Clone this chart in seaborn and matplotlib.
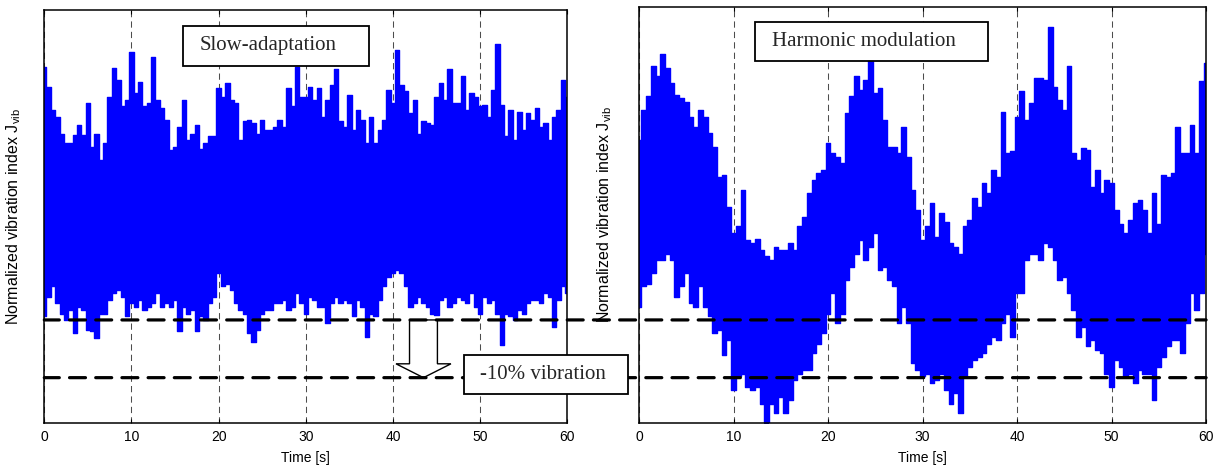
import numpy as np
import pandas as pd
import matplotlib
matplotlib.use("Agg")
import matplotlib.pyplot as plt
import seaborn as sns
from matplotlib.patches import ConnectionPatch, Rectangle

# ---------------------------------------------
# Data (envelope of the vibration index, every 0.5 s)
# ---------------------------------------------
time_s = np.arange(0, 60.5, 0.5)

slow_upper = [
    1.439, 1.404, 1.364, 1.352, 1.323, 1.306, 1.306, 1.321, 1.338, 1.321,
    1.375, 1.300, 1.323, 1.277, 1.306, 1.387, 1.436, 1.416, 1.370, 1.381,
    1.464, 1.393, 1.413, 1.370, 1.376, 1.456, 1.381, 1.367, 1.347, 1.295,
    1.300, 1.335, 1.381, 1.312, 1.323, 1.338, 1.297, 1.306, 1.318, 1.318,
    1.402, 1.387, 1.410, 1.381, 1.376, 1.312, 1.344, 1.347, 1.341, 1.323,
    1.347, 1.329, 1.329, 1.335, 1.347, 1.335, 1.402, 1.370, 1.439, 1.387,
    1.387, 1.404, 1.381, 1.402, 1.352, 1.381, 1.407, 1.434, 1.344, 1.335,
    1.390, 1.329, 1.364, 1.347, 1.306, 1.352, 1.306, 1.329, 1.347, 1.399,
    1.376, 1.468, 1.407, 1.396, 1.358, 1.381, 1.323, 1.344, 1.341, 1.338,
    1.387, 1.410, 1.381, 1.434, 1.376, 1.376, 1.422, 1.364, 1.393, 1.387,
    1.370, 1.373, 1.352, 1.399, 1.478, 1.373, 1.318, 1.364, 1.312, 1.361,
    1.329, 1.358, 1.347, 1.367, 1.335, 1.341, 1.312, 1.352, 1.364, 1.416,
    1.387,
]
slow_lower = [
    1.006, 1.040, 1.058, 1.029, 1.011, 1.000, 1.017, 0.977, 1.023, 1.017,
    0.982, 0.980, 0.968, 1.011, 1.011, 1.034, 1.046, 1.052, 1.040, 1.006,
    1.029, 1.023, 1.034, 1.017, 1.023, 1.029, 1.046, 1.023, 1.029, 1.023,
    1.034, 0.980, 1.023, 1.011, 1.017, 0.980, 1.006, 1.000, 1.029, 1.040,
    1.081, 1.058, 1.063, 1.052, 1.029, 1.017, 1.011, 0.977, 0.962, 0.982,
    1.011, 1.017, 1.017, 1.029, 1.029, 1.034, 1.017, 1.023, 1.046, 1.029,
    1.011, 1.040, 1.034, 1.023, 1.023, 0.994, 1.029, 1.040, 1.029, 1.034,
    1.029, 1.006, 1.034, 1.023, 0.971, 1.011, 1.006, 1.034, 1.058, 1.075,
    1.081, 1.087, 1.081, 1.058, 1.023, 1.029, 1.040, 1.029, 1.023, 1.011,
    1.008, 1.034, 1.040, 1.023, 1.029, 1.040, 1.034, 1.029, 1.046, 1.023,
    1.011, 1.040, 1.029, 1.034, 1.011, 0.956, 1.011, 1.006, 1.000, 1.017,
    1.011, 1.029, 1.034, 1.034, 1.029, 1.046, 1.040, 0.988, 1.034, 1.058,
    1.046,
]
harm_upper = [
    1.312, 1.364, 1.387, 1.439, 1.422, 1.460, 1.436, 1.410, 1.390, 1.384,
    1.378, 1.352, 1.335, 1.364, 1.352, 1.323, 1.300, 1.248, 1.251, 1.196,
    1.150, 1.162, 1.225, 1.139, 1.133, 1.140, 1.121, 1.110, 1.104, 1.127,
    1.121, 1.121, 1.133, 1.121, 1.162, 1.179, 1.219, 1.243, 1.254, 1.260,
    1.306, 1.289, 1.283, 1.271, 1.358, 1.387, 1.422, 1.399, 1.416, 1.451,
    1.393, 1.402, 1.347, 1.300, 1.300, 1.289, 1.335, 1.283, 1.225, 1.191,
    1.139, 1.162, 1.202, 1.144, 1.185, 1.170, 1.133, 1.127, 1.115, 1.162,
    1.173, 1.211, 1.196, 1.237, 1.219, 1.260, 1.248, 1.361, 1.289, 1.292,
    1.352, 1.396, 1.347, 1.376, 1.419, 1.419, 1.416, 1.508, 1.404, 1.381,
    1.364, 1.439, 1.289, 1.277, 1.297, 1.295, 1.231, 1.260, 1.219, 1.243,
    1.237, 1.191, 1.167, 1.150, 1.173, 1.202, 1.208, 1.191, 1.150, 1.219,
    1.167, 1.251, 1.248, 1.254, 1.335, 1.289, 1.289, 1.338, 1.289, 1.413,
    1.445,
]
harm_lower = [
    1.023, 1.058, 1.063, 1.081, 1.104, 1.104, 1.115, 1.104, 1.040, 1.058,
    1.081, 1.029, 1.023, 1.058, 1.023, 1.006, 0.977, 0.982, 0.939, 0.965,
    0.878, 0.902, 0.907, 0.884, 0.878, 0.884, 0.855, 0.818, 0.855, 0.838,
    0.867, 0.838, 0.861, 0.896, 0.907, 0.913, 0.913, 0.942, 0.959, 0.977,
    1.011, 1.046, 0.994, 1.011, 1.069, 1.092, 1.115, 1.139, 1.104, 1.127,
    1.150, 1.087, 1.092, 1.069, 1.058, 0.994, 1.023, 0.994, 0.925, 0.913,
    0.902, 0.907, 0.890, 0.896, 0.907, 0.878, 0.855, 0.873, 0.838, 0.902,
    0.919, 0.930, 0.936, 0.942, 0.959, 0.971, 0.965, 0.994, 1.011, 0.971,
    1.046, 1.046, 1.104, 1.115, 1.115, 1.104, 1.133, 1.127, 1.104, 1.069,
    1.075, 1.046, 1.017, 0.971, 0.988, 0.954, 0.965, 0.948, 0.942, 0.907,
    0.884, 0.930, 0.919, 0.902, 0.907, 0.890, 0.913, 0.907, 0.907, 0.861,
    0.919, 0.936, 0.954, 0.965, 0.965, 0.942, 0.994, 1.046, 1.017, 1.046,
    1.115,
]

xticks = [0, 10, 20, 30, 40, 50, 60]
limit_level = 1.0      # upper thick dashed line
target_level = 0.9     # -10 % line
arrow_time = 43.5

panel_titles = ["Slow-adaptation", "Harmonic modulation"]
xlabel = "Time [s]"
ylabel = "Normalized vibration index J$_{vib}$"
reduction_label = "-10% vibration"

# ---------------------------------------------
# Style
# ---------------------------------------------
sns.set_theme(style="ticks")
plt.rcParams["font.family"] = ["Liberation Sans", "DejaVu Sans"]
plt.rcParams["mathtext.default"] = "regular"

fig = plt.figure(figsize=(12.2, 4.67), dpi=100)
ax1 = fig.add_axes([0.0363, 0.0949, 0.4287, 0.8837])
ax2 = fig.add_axes([0.5238, 0.0949, 0.4648, 0.8901])


def draw_band(ax, upper, lower):
    df = pd.DataFrame({"t": time_s, "upper": upper, "lower": lower})
    ax.fill_between(df["t"], df["lower"], df["upper"], step="mid",
                    color="blue", lw=0, zorder=2)
    sns.lineplot(data=df, x="t", y="upper", ax=ax, color="blue", lw=1,
                 drawstyle="steps-mid", zorder=2)
    sns.lineplot(data=df, x="t", y="lower", ax=ax, color="blue", lw=1,
                 drawstyle="steps-mid", zorder=2)


def style_axes(ax, ytop, label_x):
    ax.set_xlim(0, 60)
    ax.set_ylim(0.822, ytop)
    ax.set_xticks(xticks)
    ax.set_yticks([])
    ax.grid(axis="x", color="0.3", lw=0.75, ls=(0, (6, 4)))
    ax.tick_params(axis="x", direction="in", top=True, length=3, width=0.8,
                   labelsize=10, pad=5, colors="black")
    for sp in ax.spines.values():
        sp.set_color("black")
        sp.set_linewidth(1.1)
    ax.set_xlabel(xlabel, fontsize=10, labelpad=5, color="black")
    ax.set_ylabel(ylabel, fontsize=11.5, color="black")
    ax.yaxis.set_label_coords(label_x, 0.5)


draw_band(ax1, slow_upper, slow_lower)
draw_band(ax2, harm_upper, harm_lower)
style_axes(ax1, 1.537, -0.040)
style_axes(ax2, 1.542, -0.045)

# ---------------------------------------------
# Title boxes
# ---------------------------------------------
serif = ["Liberation Serif", "DejaVu Serif"]
ax1.add_patch(Rectangle((0.265, 0.864), 0.356, 0.097, transform=ax1.transAxes,
                        fc="white", ec="black", lw=1.3, zorder=6))
ax1.text(0.297, 0.913, panel_titles[0], transform=ax1.transAxes, ha="left",
         va="center", fontsize=15, family=serif, zorder=7)
ax2.add_patch(Rectangle((0.205, 0.870), 0.411, 0.094, transform=ax2.transAxes,
                        fc="white", ec="black", lw=1.3, zorder=6))
ax2.text(0.235, 0.917, panel_titles[1], transform=ax2.transAxes, ha="left",
         va="center", fontsize=15, family=serif, zorder=7)

# ---------------------------------------------
# Thick dashed levels running across both panels
# ---------------------------------------------
for level in [limit_level, target_level]:
    con = ConnectionPatch(xyA=(0, level), coordsA=ax1.transData,
                          xyB=(60, level), coordsB=ax2.transData,
                          color="black", lw=2.3, ls=(0.3, (5.0, 3.2)),
                          zorder=5)
    fig.add_artist(con)

# hollow arrow from the limit line down to the -10 % line
ax1.arrow(arrow_time, limit_level, 0, target_level - limit_level,
          width=3.2, head_width=6.3, head_length=0.024,
          length_includes_head=True, fc="white", ec="black", lw=1,
          zorder=4)

fig.add_artist(Rectangle((0.8025, 0.0695), 0.3136, 0.0945,
                         transform=ax1.transAxes, fc="white", ec="black",
                         lw=1.3, zorder=10))
fig.text(0.833, 0.117, reduction_label, transform=ax1.transAxes, ha="left",
         va="center", fontsize=15, family=serif, zorder=11)

fig.savefig("out.png", dpi=100)
